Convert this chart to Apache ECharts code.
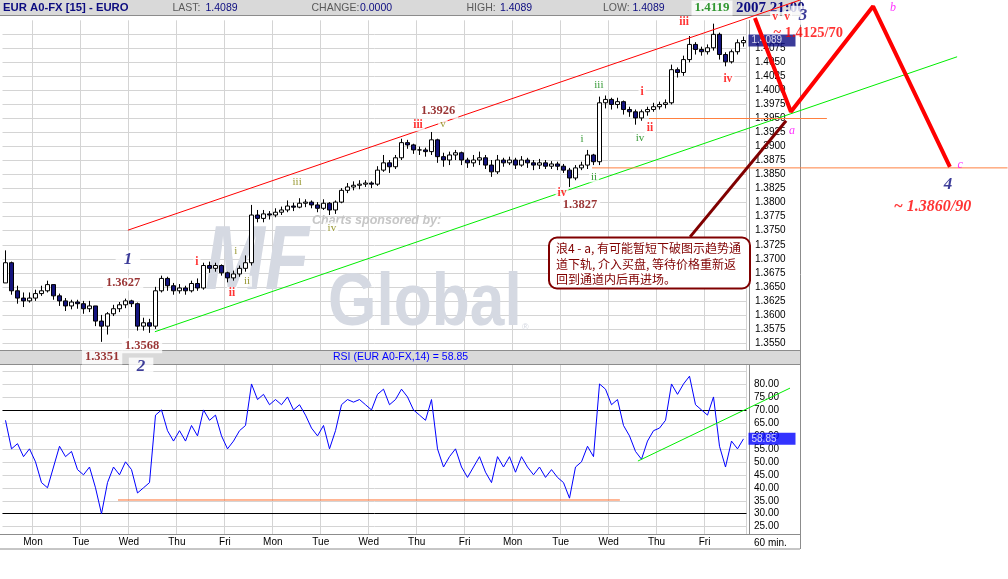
<!DOCTYPE html>
<html>
<head>
<meta charset="utf-8">
<title>EUR A0-FX [15] - EURO</title>
<script src="https://cdn.jsdelivr.net/npm/echarts@6.0.0/dist/echarts.min.js"></script>
<style>
html,body{margin:0;padding:0;background:#ffffff;}
#chart{width:1008px;height:579px;}
</style>
</head>
<body>
<div id="chart"></div>
<script>
// ---------------- data ----------------
const dayLabels = ['Mon','Tue','Wed','Thu','Fri','Mon','Tue','Wed','Thu','Fri','Mon','Tue','Wed','Thu','Fri'];
const firstOpen = 1.3657;
const closes = [
1.3693,1.3643,1.3630,1.3625,1.3630,1.3638,1.3643,1.3654,1.3634,1.3625,
1.3616,1.3623,1.3620,1.3611,1.3616,1.3589,1.3580,1.3602,1.3611,1.3618,
1.3625,1.3620,1.3580,1.3586,1.3580,1.3643,1.3665,1.3652,1.3643,1.3648,
1.3643,1.3656,1.3648,1.3688,1.3683,1.3688,1.3675,1.3666,1.3673,1.3683,
1.3693,1.3778,1.3772,1.3780,1.3778,1.3783,1.3787,1.3794,1.3792,1.3799,
1.3801,1.3796,1.3790,1.3799,1.3787,1.3801,1.3822,1.3828,1.3831,1.3833,
1.3835,1.3833,1.3858,1.3871,1.3864,1.3880,1.3907,1.3903,1.3894,1.3894,
1.3891,1.3912,1.3882,1.3876,1.3885,1.3889,1.3876,1.3871,1.3876,1.3880,
1.3867,1.3855,1.3876,1.3871,1.3876,1.3867,1.3876,1.3871,1.3867,1.3871,
1.3865,1.3869,1.3865,1.3858,1.3844,1.3862,1.3867,1.3885,1.3873,1.3978,
1.3984,1.3975,1.3980,1.3966,1.3962,1.3951,1.3962,1.3966,1.3971,1.3975,
1.3978,1.4037,1.4032,1.4055,1.4082,1.4073,1.4069,1.4076,1.4100,1.4064,
1.4051,1.4069,1.4085,1.4089
];
const highs = [
1.3715,1.3695,1.3652,1.3640,1.3640,1.3645,1.3652,1.3661,1.3654,1.3638,
1.3630,1.3627,1.3627,1.3625,1.3625,1.3616,1.3600,1.3605,1.3618,1.3623,
1.3629,1.3627,1.3622,1.3595,1.3593,1.3650,1.3670,1.3668,1.3657,1.3655,
1.3652,1.3661,1.3665,1.3693,1.3695,1.3693,1.3690,1.3677,1.3679,1.3688,
1.3706,1.3796,1.3787,1.3787,1.3785,1.3790,1.3793,1.3804,1.3800,1.3808,
1.3806,1.3804,1.3801,1.3806,1.3801,1.3804,1.3826,1.3835,1.3838,1.3840,
1.3840,1.3838,1.3865,1.3885,1.3876,1.3885,1.3914,1.3912,1.3905,1.3900,
1.3898,1.3926,1.3914,1.3889,1.3891,1.3894,1.3891,1.3880,1.3885,1.3891,
1.3885,1.3876,1.3885,1.3880,1.3882,1.3880,1.3883,1.3880,1.3876,1.3878,
1.3876,1.3874,1.3873,1.3869,1.3862,1.3867,1.3873,1.3894,1.3887,1.3989,
1.3991,1.3987,1.3987,1.3982,1.3971,1.3966,1.3966,1.3971,1.3978,1.3980,
1.3984,1.4046,1.4041,1.4062,1.4097,1.4086,1.4078,1.4082,1.4119,1.4103,
1.4068,1.4073,1.4091,1.4096
];
const lows = [
1.3657,1.3636,1.3620,1.3614,1.3622,1.3625,1.3634,1.3640,1.3627,1.3616,
1.3607,1.3610,1.3611,1.3602,1.3605,1.3580,1.3552,1.3565,1.3598,1.3605,
1.3612,1.3614,1.3572,1.3572,1.3568,1.3575,1.3640,1.3643,1.3636,1.3638,
1.3636,1.3640,1.3643,1.3645,1.3675,1.3677,1.3670,1.3658,1.3661,1.3668,
1.3677,1.3688,1.3765,1.3765,1.3770,1.3774,1.3778,1.3783,1.3785,1.3790,
1.3792,1.3790,1.3783,1.3787,1.3778,1.3780,1.3799,1.3817,1.3822,1.3824,
1.3828,1.3826,1.3830,1.3855,1.3853,1.3860,1.3876,1.3896,1.3887,1.3885,
1.3882,1.3885,1.3871,1.3864,1.3867,1.3876,1.3867,1.3862,1.3864,1.3867,
1.3860,1.3846,1.3851,1.3864,1.3867,1.3860,1.3864,1.3862,1.3858,1.3860,
1.3860,1.3860,1.3858,1.3853,1.3828,1.3840,1.3858,1.3860,1.3867,1.3867,
1.3968,1.3966,1.3968,1.3957,1.3953,1.3939,1.3946,1.3955,1.3962,1.3966,
1.3968,1.3975,1.4023,1.4026,1.4050,1.4064,1.4062,1.4064,1.4071,1.4055,
1.4043,1.4048,1.4064,1.4078
];
const rsiValues = [
66,55,57,52,55,50,42,40,48,56,
52,54,47,45,48,40,30,42,48,45,
50,47,38,40,42,68,70,62,58,62,
58,64,60,70,66,68,60,55,58,62,
64,80,74,76,72,74,72,75,70,72,
68,63,60,64,55,62,72,74,73,74,
72,70,76,78,72,74,78,75,70,68,
66,74,55,48,52,55,48,44,48,52,
46,42,52,48,52,46,52,48,45,48,
44,47,44,42,36,48,50,56,52,80,
78,72,74,64,60,54,51,58,62,63,
66,80,76,80,83,72,70,68,75,56,
48,58,55,58.85
];
const lastPrice = 1.4089;
const lastRsi = 58.85;
const rsiLevels = [70, 30];

// annotation lines: [bar index, price] / [bar index, RSI]
const upperChannel = [[20.4, 1.3751], [132.4, 1.4161]];
const lowerChannel = [[24.9, 1.3570], [158.6, 1.4060]];
const resistance1395 = [[107.25, 1.3950], [136.9, 1.3950]];
const support1386 = [[97.75, 1.3862], [167.0, 1.3862]];
const waveABC = [[124.9, 1.4129], [130.9, 1.3962], [144.6, 1.4150], [157.4, 1.3864]];
const calloutPointer = [[114.1, 1.3739], [130.1, 1.3946]];
const rsiTrend = [[105.4, 50.3], [130.75, 78.4]];
const rsiSupport = [[18.75, 35.3], [102.4, 35.3]];

// text notes: [bar index, price, text]
const priceNotes = [[19.6, 1.3657, '1.3627'], [22.75, 1.3545, '1.3568'], [16.1, 1.3525, '1.3351'], [72.1, 1.3963, '1.3926'], [95.75, 1.3796, '1.3827']];
const highNote = [[117.75, 1.4147, '1.4119']];
const waveNumbers = [[20.4, 1.3698, '1'], [22.6, 1.3507, '2'], [132.9, 1.4134, '3'], [157.1, 1.3833, '4']];
const targetUp = [[133.8, 1.4102, '~ 1.4125/70']];
const targetDown = [[154.5, 1.3792, '~ 1.3860/90']];
const abcNotes = [[131.1, 1.3928, 'a'], [147.9, 1.4147, 'b'], [159.1, 1.3867, 'c']];
const redRoman = [[31.9, 1.3694, 'i'], [37.75, 1.3639, 'ii'], [68.75, 1.3938, 'iii'], [92.75, 1.3817, 'iv'], [106.1, 1.3997, 'i'], [107.4, 1.3933, 'ii'], [113.1, 1.4122, 'iii'], [120.4, 1.4020, 'iv'], [128.25, 1.4131, 'v'], [130.25, 1.4131, 'v']];
const oliveRoman = [[38.4, 1.3714, 'i'], [40.25, 1.3660, 'ii'], [48.6, 1.3837, 'iii'], [54.4, 1.3755, 'iv'], [72.9, 1.3940, 'v']];
const greenRoman = [[96.1, 1.3914, 'i'], [98.1, 1.3846, 'ii'], [98.9, 1.4010, 'iii'], [105.75, 1.3915, 'iv']];

const headerTitle = 'EUR A0-FX [15] - EURO';
const headerFields = [['LAST:', '1.4089'], ['CHANGE:', '0.0000'], ['HIGH:', '1.4089'], ['LOW:', '1.4089']];
const headerTime = '2007 21:00';
const rsiTitle = 'RSI (EUR A0-FX,14) = 58.85';
const calloutText = '浪4 - a, 有可能暂短下破图示趋势通\n道下轨, 介入买盘, 等待价格重新返\n回到通道内后再进场。';

// ---------------- layout ----------------
const SANS = "'Liberation Sans', Arial, sans-serif";
const SERIF = "'Liberation Serif', 'DejaVu Serif', serif";
const GL = 2.5, BW = 6;
const PW = BW * closes.length;
const OW = 1008 - GL;
const xMaxOverlay = -0.5 + OW / BW;
const PT = 20.3, PH = 336.7;
const RT = 364.5, RH = 175.2;

const opens = [firstOpen].concat(closes.slice(0, -1));
const ohlc = closes.map((c, i) => [opens[i], c, lows[i], highs[i]]);
const cats = closes.map((_, i) => String(i));
const isDay = i => i >= 5 && (i - 5) % 8 === 0;
const lastIdx = closes.length - 1;

function catAxis(gi) {
  return {
    type: 'category', gridIndex: gi, data: cats, boundaryGap: true,
    axisLine: {show: false}, axisTick: {show: false}, axisLabel: {show: false},
    splitLine: {show: true, interval: (i) => isDay(i), lineStyle: {color: '#d4d4d4', width: 1}}
  };
}
function overlayLine(data, color, width, xi, extra) {
  return Object.assign({
    type: 'line', xAxisIndex: xi, yAxisIndex: xi, data: data, clip: false, silent: true,
    symbol: 'none', z: 3, lineStyle: {color: color, width: width}
  }, extra || {});
}
function noteSeries(data, label, z, xi) {
  return {
    type: 'scatter', xAxisIndex: xi || 2, yAxisIndex: xi || 2, clip: false, silent: true, z: z || 6,
    symbolSize: 1, itemStyle: {color: 'rgba(0,0,0,0)'},
    data: data.map(d => ({value: [d[0], d[1]], name: d[2]})),
    label: Object.assign({show: true, position: 'inside', formatter: p => p.name}, label)
  };
}
function valueBox(xi, value, text, bg, width) {
  // readout box at the right axis, anchored to the last value
  return {
    type: 'scatter', xAxisIndex: xi, yAxisIndex: xi, clip: false, silent: true, z: 7,
    symbolSize: 1, itemStyle: {color: 'rgba(0,0,0,0)'},
    data: [{value: [lastIdx + 0.5, value], name: text}],
    label: {show: true, position: 'right', distance: 1.5, formatter: p => p.name,
      backgroundColor: bg, color: '#ffffff', fontSize: 10, fontFamily: SANS,
      width: width, padding: [1, 3], align: 'left'}
  };
}

const graphics = [];
function rect(x, y, w, h, fill, z) { graphics.push({type: 'rect', z: z || 1, silent: true, shape: {x, y, width: w, height: h}, style: {fill}}); }
function hline(x1, x2, y, stroke, z) { graphics.push({type: 'line', z: z || 1, silent: true, shape: {x1, y1: y, x2, y2: y}, style: {stroke, lineWidth: 1}}); }
function vline(x, y1, y2, stroke, z) { graphics.push({type: 'line', z: z || 1, silent: true, shape: {x1: x, y1, x2: x, y2}, style: {stroke, lineWidth: 1}}); }
function text(x, y, t, font, fill, z, extra) { graphics.push(Object.assign({type: 'text', z: z || 2, silent: true, x, y, style: {text: t, font, fill, align: 'left', verticalAlign: 'middle'}}, extra || {})); }

// top header bar
rect(0, 0, 800, 15, '#d9d9d9');
hline(0, 800, 15.5, '#8c8c8c');
text(3, 8, headerTitle, 'bold 11.3px ' + SANS, '#0c0c80');
const fieldX = [[172.5, 205.5], [311.5, 360], [466.5, 500], [603, 632.5]];
headerFields.forEach((f, k) => {
  text(fieldX[k][0], 8, f[0], '10.5px ' + SANS, '#5a5a5a');
  text(fieldX[k][1], 8, f[1], '10.5px ' + SANS, '#0c0c80');
});
text(736, 8, headerTime, 'bold 15px ' + SERIF, '#0c0c80');
// RSI header bar
rect(0, 350.5, 800, 14, '#d9d9d9');
hline(0, 800, 350.5, '#8c8c8c');
hline(0, 800, 364.5, '#8c8c8c');
text(333, 357.5, rsiTitle, '10.5px ' + SANS, '#0000ff');
// bottom time strip
rect(0, 534.5, 800, 14.5, '#ffffff');
hline(0, 800, 534.5, '#8c8c8c');
hline(0, 800, 549, '#8c8c8c');
text(754, 543, '60 min.', '10px ' + SANS, '#000000');
vline(800.5, 0, 549, '#8c8c8c');
// watermark
text(312, 221, 'Charts sponsored by:', 'italic bold 12.5px ' + SANS, '#c6c6c6', 1);
text(205, 264, 'MF', 'italic bold 90px ' + SANS, '#d5d9e2', 1, {scaleX: 0.8});
text(328, 304, 'Global', 'bold 75px ' + SANS, '#d5d9e2', 1, {scaleX: 0.83});
text(522, 328, '®', '9px ' + SANS, '#d5d9e2', 1);
// callout box
graphics.push({type: 'rect', z: 8, silent: true, shape: {x: 549, y: 237.5, width: 201, height: 51, r: 8}, style: {fill: '#ffffff', stroke: '#800000', lineWidth: 2}});
graphics.push({type: 'text', z: 9, silent: true, x: 556, y: 241, style: {text: calloutText, font: "12px 'Noto Sans CJK SC', sans-serif", fill: '#800000', lineHeight: 15.5, align: 'left', verticalAlign: 'top'}});

const option = {
  animation: false,
  backgroundColor: '#ffffff',
  textStyle: {fontFamily: SANS},
  grid: [
    {left: GL, top: PT, width: PW, height: PH},
    {left: GL, top: RT, width: PW, height: RH},
    {left: GL, top: PT, width: OW, height: PH},
    {left: GL, top: RT, width: OW, height: RH},
    {left: GL - 3, top: 533.5, width: PW, height: 1}
  ],
  xAxis: [
    catAxis(0), catAxis(1),
    {type: 'value', gridIndex: 2, min: -0.5, max: xMaxOverlay, show: false},
    {type: 'value', gridIndex: 3, min: -0.5, max: xMaxOverlay, show: false},
    {type: 'category', gridIndex: 4, data: cats, z: 5, boundaryGap: true,
     axisLine: {show: false}, axisTick: {show: false}, splitLine: {show: false},
     axisLabel: {show: true, interval: (i) => isDay(i), formatter: (v, i) => dayLabels[(i - 5) / 8], margin: 3, fontSize: 10, color: '#000000'}}
  ],
  yAxis: [
    {type: 'value', gridIndex: 0, position: 'right', offset: 3, min: 1.3525, max: 1.4125, interval: 0.0025,
     axisLine: {show: true, lineStyle: {color: '#8c8c8c'}}, axisTick: {show: false},
     axisLabel: {margin: 5.5, fontSize: 10, color: '#000000', align: 'left',
       formatter: v => (v > 1.35499 && v < 1.40751) ? v.toFixed(4) : ''},
     splitLine: {show: true, showMinLine: false, showMaxLine: false, lineStyle: {color: '#d4d4d4'}}},
    {type: 'value', gridIndex: 1, position: 'right', offset: 3, min: 20, max: 87.5, interval: 5,
     axisLine: {show: true, lineStyle: {color: '#8c8c8c'}}, axisTick: {show: false},
     axisLabel: {margin: 4.5, fontSize: 10, color: '#000000', align: 'left',
       formatter: v => (v >= 25 && v <= 80) ? v.toFixed(2) : ''},
     splitLine: {show: true, showMinLine: false, showMaxLine: false, lineStyle: {color: '#d4d4d4'}}},
    {type: 'value', gridIndex: 2, min: 1.3525, max: 1.4125, show: false},
    {type: 'value', gridIndex: 3, min: 20, max: 87.5, show: false},
    {type: 'value', gridIndex: 4, show: false}
  ],
  graphic: graphics,
  series: [
    {type: 'candlestick', name: 'EUR', xAxisIndex: 0, yAxisIndex: 0, data: ohlc, barWidth: 4, z: 2,
     itemStyle: {color: '#ffffff', color0: '#14147e', borderColor: '#000000', borderColor0: '#000000', borderWidth: 1}},
    {type: 'line', name: 'RSI', xAxisIndex: 1, yAxisIndex: 1, data: rsiValues, symbol: 'none', z: 3,
     lineStyle: {color: '#0000ff', width: 1},
     markLine: {silent: true, symbol: ['none', 'none'], z: 2,
       data: rsiLevels.map(v => ({yAxis: v, lineStyle: {color: '#000000', width: 1, type: 'solid'}, label: {show: false}}))}},
    valueBox(2, lastPrice, lastPrice.toFixed(4), '#0a0a80', 41),
    valueBox(3, lastRsi, lastRsi.toFixed(2), '#0000ff', 41),
    overlayLine(upperChannel, '#ff0000', 1, 2),
    overlayLine(lowerChannel, '#00ee00', 1, 2),
    overlayLine(resistance1395, '#ff8040', 1, 2),
    overlayLine(support1386, '#ff8040', 1, 2),
    overlayLine(calloutPointer, '#800000', 3, 2, {z: 4}),
    overlayLine(waveABC, '#ff0000', 4, 2, {z: 8,
      markLine: {silent: true, symbol: ['none', 'arrow'], symbolSize: 13, z: 8,
        lineStyle: {color: '#ff0000', width: 4, type: 'solid'}, label: {show: false},
        data: [[{coord: waveABC[2]}, {coord: waveABC[3]}]]}}),
    overlayLine(rsiTrend, '#00ee00', 1, 3),
    overlayLine(rsiSupport, '#ff7030', 1, 3),
    noteSeries(priceNotes, {fontFamily: SERIF, fontWeight: 'bold', fontSize: 12.5, color: '#800000', backgroundColor: '#ffffff', padding: [1, 3]}),
    noteSeries(highNote, {fontFamily: SERIF, fontWeight: 'bold', fontSize: 13, color: '#008000', backgroundColor: '#ffffff', padding: [1, 3]}),
    noteSeries(waveNumbers, {fontFamily: SERIF, fontWeight: 'bold', fontStyle: 'italic', fontSize: 17, color: '#0c0c80', backgroundColor: '#ffffff', padding: [1, 8]}),
    noteSeries(targetUp, {fontFamily: SERIF, fontWeight: 'bold', fontSize: 14.5, color: '#ff0000'}, 9),
    noteSeries(targetDown, {fontFamily: SERIF, fontWeight: 'bold', fontStyle: 'italic', fontSize: 16, color: '#ff0000'}),
    noteSeries(abcNotes, {fontFamily: SERIF, fontStyle: 'italic', fontSize: 12, color: '#ff00ff'}),
    noteSeries(redRoman, {fontFamily: SERIF, fontWeight: 'bold', fontSize: 11.5, color: '#ff0000', backgroundColor: '#ffffff', padding: [0, 2]}),
    noteSeries(oliveRoman, {fontFamily: SERIF, fontSize: 11, color: '#808000', backgroundColor: '#ffffff', padding: [0, 2]}),
    noteSeries(greenRoman, {fontFamily: SERIF, fontSize: 11, color: '#008000', backgroundColor: '#ffffff', padding: [0, 2]})
  ]
};

const chart = echarts.init(document.getElementById('chart'), null, {renderer: 'canvas'});
chart.setOption(option);
</script>
</body>
</html>
